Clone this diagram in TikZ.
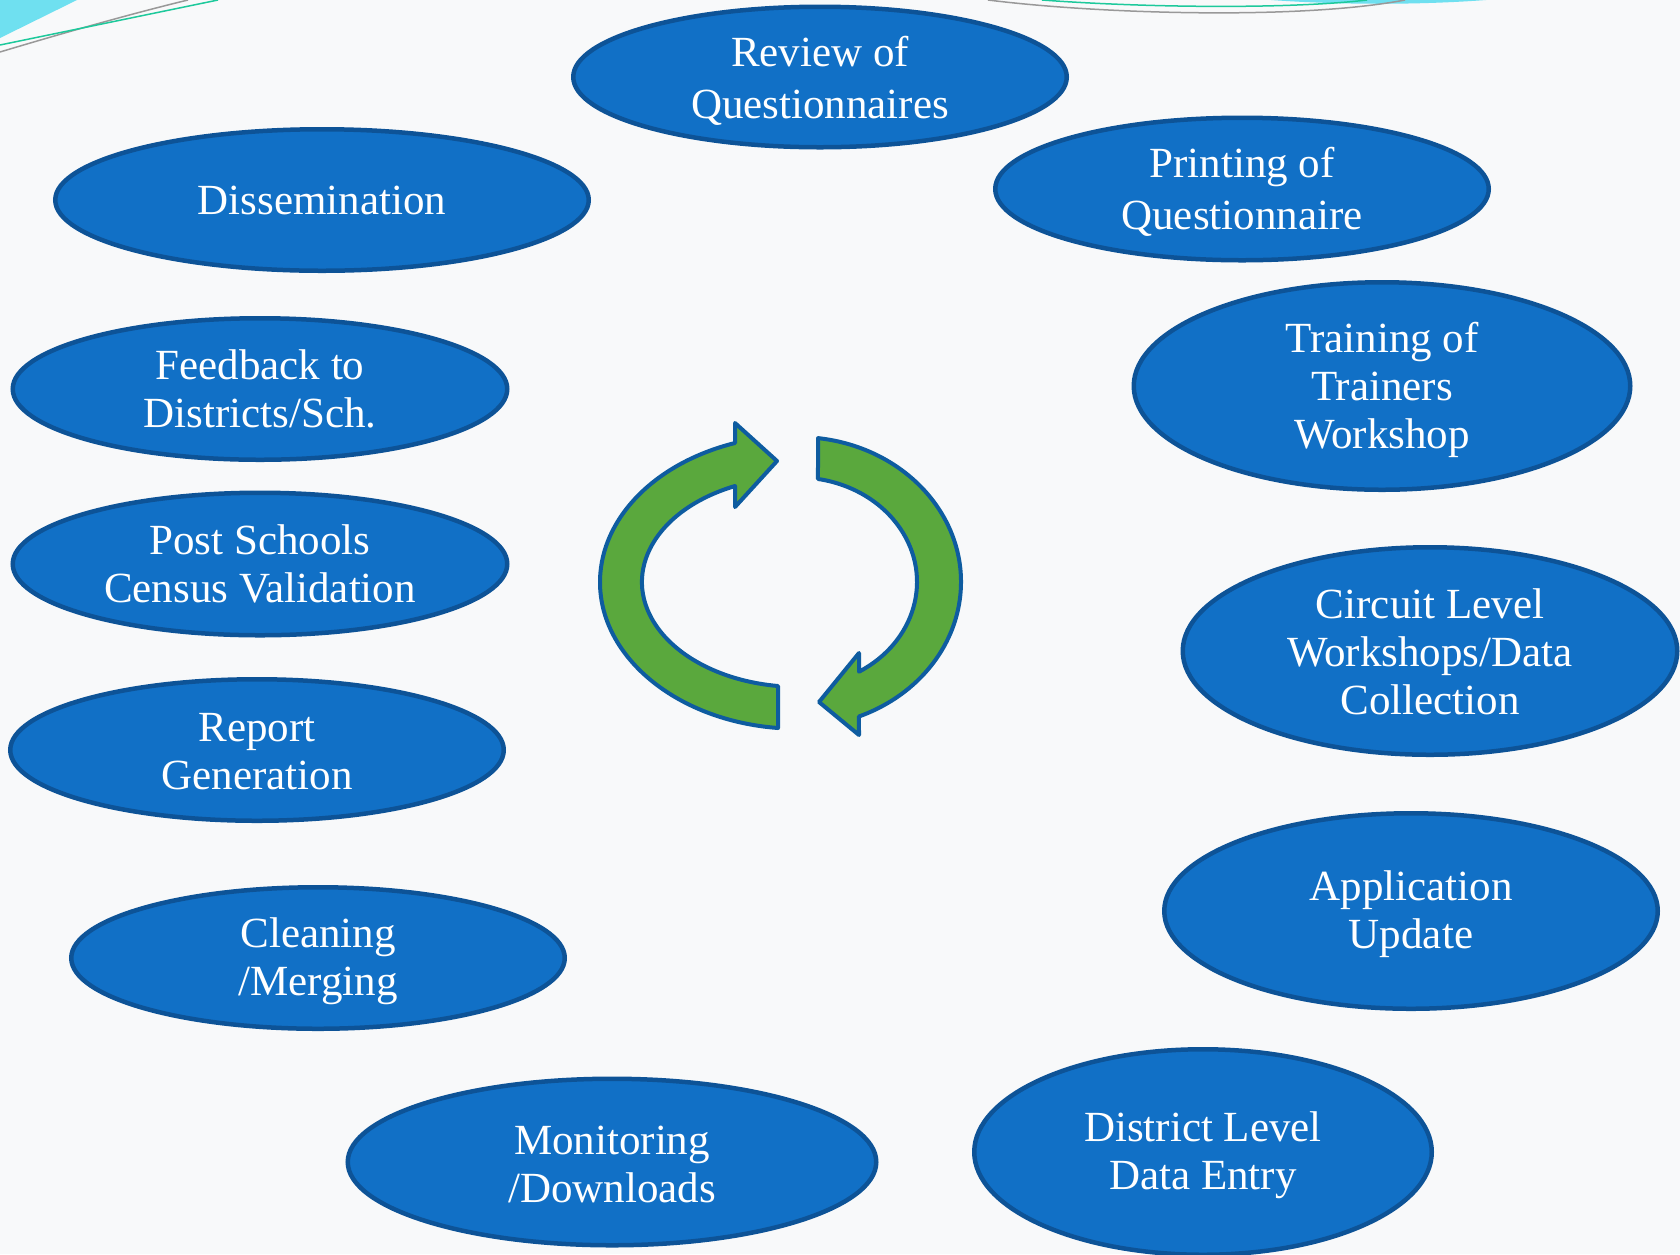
\documentclass[tikz,border=0pt]{standalone}
\usepackage{fontspec}
\setmainfont{Liberation Serif}
\usetikzlibrary{shapes.geometric}
\definecolor{stagefill}{HTML}{1170C6}
\definecolor{stageline}{HTML}{0D5397}
\definecolor{arrowfill}{HTML}{5AA83D}
\definecolor{arrowline}{HTML}{0E5CA0}
\definecolor{paper}{HTML}{F8F9FA}
\definecolor{swoosh}{HTML}{6FE0F0}
\definecolor{swooshline}{HTML}{1DC99B}
% first-line strut, pushes the text a little down in its ellipse
\newcommand\stagelift[1]{\rule{0pt}{#1pt}}
\begin{document}
\begin{tikzpicture}[x=1pt,y=-1pt,
  stage/.style={ellipse,draw=stageline,fill=stagefill,line width=4.5pt,text=white,
    align=center,inner sep=0pt,font=\fontsize{43}{48}\selectfont},
  wide/.style={font=\fontsize{43}{52}\selectfont},
  size/.style 2 args={minimum width=#1pt-4.5pt,minimum height=#2pt-4.5pt},
  cyclearrow/.style={draw=arrowline,fill=arrowfill,line width=4pt,line join=round}]
  \useasboundingbox (0,0) rectangle (1680,1254);
  \fill[paper] (0,0) rectangle (1680,1254);
  \clip (0,0) rectangle (1680,1254);
  % corner swooshes
  \fill[swoosh] (0,0) -- (77,0) -- (0,38) -- cycle;
  \draw[gray!80,line width=1.5pt] (0,52) .. controls (60,34) and (130,14) .. (188,0);
  \draw[swooshline,line width=1.5pt] (0,45) -- (218,0);
  \fill[swoosh] (1271,0) .. controls (1340,5) and (1420,5) .. (1486,0) -- cycle;
  \draw[gray!80,line width=1.5pt] (988,0) .. controls (1100,14) and (1300,20) .. (1405,0);
  \draw[swooshline,line width=1.5pt] (1042,0) .. controls (1150,8) and (1290,9) .. (1367,0);
  % stages
  \node[stage,wide,size={498}{145}] (review) at (820,77) {\stagelift{37.5}Review of\\Questionnaires};
  \node[stage,wide,size={498}{147}] (printing) at (1242,189) {\stagelift{35}Printing of\\Questionnaire};
  \node[stage,size={538}{146}] (dissem) at (322,200) {Dissemination};
  \node[stage,size={501}{212}] (training) at (1382,386) {\stagelift{38}Training of\\Trainers\\Workshop};
  \node[stage,size={499}{146}] (feedback) at (260,389) {Feedback to\\Districts/Sch.};
  \node[stage,size={499}{147}] (postsch) at (260,564) {Post Schools\\Census Validation};
  \node[stage,size={499}{212}] (circuit) at (1430,651) {\stagelift{31.5}Circuit Level\\Workshops/Data\\Collection};
  \node[stage,size={498}{146}] (report) at (257,750) {\stagelift{31.5}Report\\Generation};
  \node[stage,size={498}{200}] (appl) at (1411,911) {\stagelift{37}Application\\Update};
  \node[stage,size={498}{146}] (cleaning) at (318,958) {\stagelift{36}Cleaning\\/Merging};
  \node[stage,size={533}{171}] (monitor) at (612,1162) {\stagelift{32.5}Monitoring\\/Downloads};
  \node[stage,size={462}{210}] (district) at (1203,1152) {\stagelift{37}District Level\\Data Entry};
  % cycle arrows
  \filldraw[cyclearrow] (778,728) arc[start angle=95.8,end angle=251.46,x radius=198,y radius=146.7]
    -- (735,423) -- (777,461) -- (735,507) -- (735,486)
    arc[start angle=246.2,end angle=97.35,x radius=156,y radius=104.9] -- cycle;
  \filldraw[cyclearrow] (818,438.1) arc[start angle=-82.95,end angle=68.04,x radius=163,y radius=145]
    -- (859,735) -- (819,702) -- (859,653) -- (859,671.7)
    arc[start angle=59.16,end angle=-80.33,x radius=119,y radius=104.5] -- cycle;
\end{tikzpicture}
\end{document}
